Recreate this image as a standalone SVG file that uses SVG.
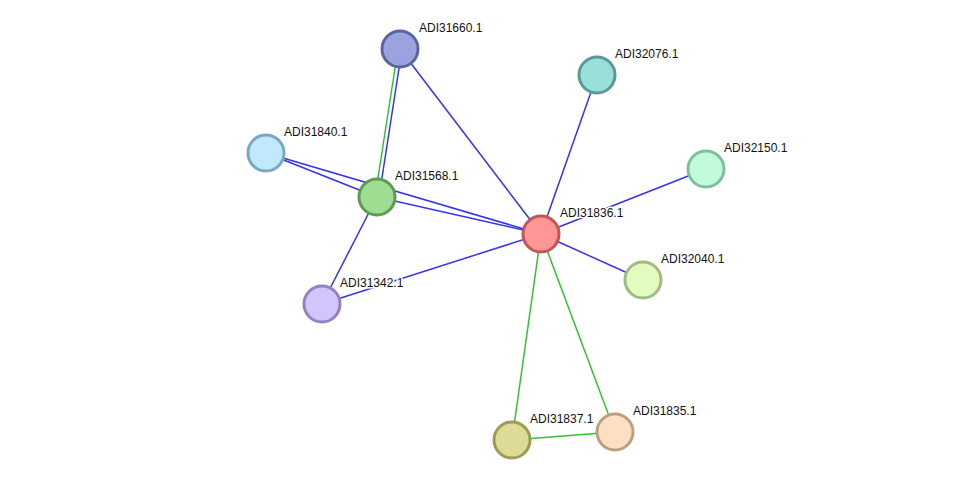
<svg xmlns="http://www.w3.org/2000/svg" width="976" height="486" viewBox="0 0 976 486">
<style>
.e{stroke-width:1.5;fill:none}
.b{stroke:#3333ee}
.g{stroke:#33c133}
.n{stroke-width:3}
.t{font-family:"Liberation Sans",Arial,sans-serif;font-size:12px;fill:#111;paint-order:stroke;stroke:#fff;stroke-width:3px;stroke-linejoin:round}
</style>
<rect width="976" height="486" fill="#fff"/>
<g id="edges">
<line class="e g" x1="398" y1="49" x2="375" y2="197"/>
<line class="e b" x1="402" y1="49" x2="379" y2="197"/>
<line class="e b" x1="400" y1="49" x2="541" y2="234"/>
<line class="e b" x1="266" y1="153" x2="377" y2="197"/>
<line class="e b" x1="266" y1="153" x2="541" y2="234"/>
<line class="e b" x1="377" y1="197" x2="541" y2="234"/>
<line class="e b" x1="377" y1="197" x2="322" y2="304"/>
<line class="e b" x1="322" y1="304" x2="541" y2="234"/>
<line class="e b" x1="541" y1="234" x2="597" y2="75"/>
<line class="e b" x1="541" y1="234" x2="706" y2="169"/>
<line class="e b" x1="541" y1="234" x2="643" y2="280"/>
<line class="e g" x1="541" y1="234" x2="512" y2="440"/>
<line class="e g" x1="541" y1="234" x2="615" y2="432"/>
<line class="e g" x1="512" y1="440" x2="615" y2="432"/>
</g>
<g id="ADI31660.1"><circle class="n" cx="400" cy="49" r="18" fill="#9aa3e0" stroke="#5a64a0"/><text class="t" x="419" y="32">ADI31660.1</text></g>
<g id="ADI32076.1"><circle class="n" cx="597" cy="75" r="18" fill="#98e0d8" stroke="#5a9a94"/><text class="t" x="615" y="58">ADI32076.1</text></g>
<g id="ADI31840.1"><circle class="n" cx="266" cy="153" r="18" fill="#c2e8fc" stroke="#7aa8c4"/><text class="t" x="284" y="136">ADI31840.1</text></g>
<g id="ADI31568.1"><circle class="n" cx="377" cy="197" r="18" fill="#9ede93" stroke="#5d9a55"/><text class="t" x="395" y="180">ADI31568.1</text></g>
<g id="ADI31836.1"><circle class="n" cx="541" cy="234" r="18" fill="#ff9696" stroke="#c05656"/><text class="t" x="560" y="217">ADI31836.1</text></g>
<g id="ADI32150.1"><circle class="n" cx="706" cy="169" r="18" fill="#c2fadc" stroke="#7fbf9a"/><text class="t" x="724" y="152">ADI32150.1</text></g>
<g id="ADI32040.1"><circle class="n" cx="643" cy="280" r="18" fill="#e2fcc0" stroke="#a0bc80"/><text class="t" x="661" y="263">ADI32040.1</text></g>
<g id="ADI31342.1"><circle class="n" cx="322" cy="304" r="18" fill="#d4c4fc" stroke="#9482c0"/><text class="t" x="340" y="287">ADI31342.1</text></g>
<g id="ADI31837.1"><circle class="n" cx="512" cy="440" r="18" fill="#dedb96" stroke="#9e9a55"/><text class="t" x="530" y="423">ADI31837.1</text></g>
<g id="ADI31835.1"><circle class="n" cx="615" cy="432" r="18" fill="#fde0c4" stroke="#bca07f"/><text class="t" x="633" y="415">ADI31835.1</text></g>
</svg>
